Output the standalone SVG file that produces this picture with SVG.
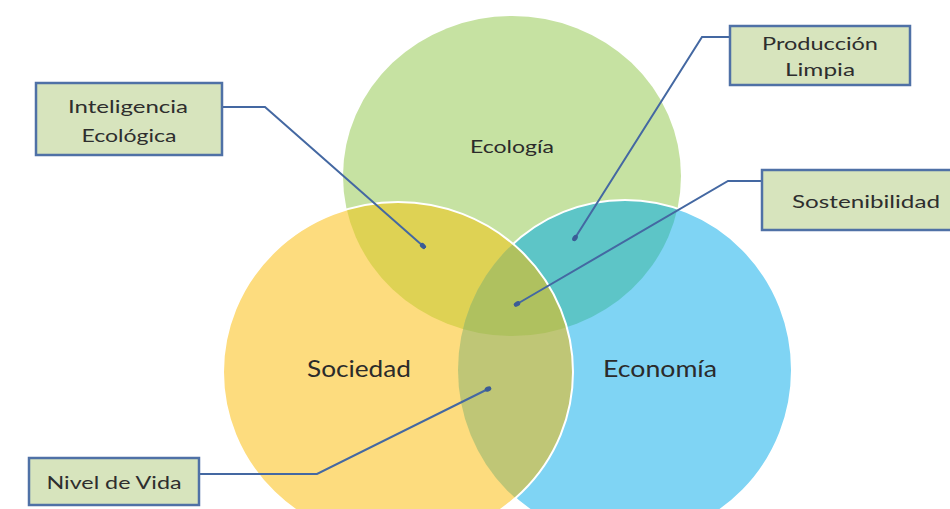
<svg xmlns="http://www.w3.org/2000/svg" width="950" height="509" viewBox="0 0 950 509">
  <style>
    .venn-label { font-family: "Lato", "Liberation Sans", sans-serif; fill: #2B2B2B; text-anchor: middle; }
    .box { fill: #D7E4BD; stroke: #4F71A6; stroke-width: 2.5; }
    .box-text { font-family: "Lato", "Liberation Sans", sans-serif; font-size: 17px; fill: #2E2E2E; text-anchor: middle; }
    .rim { fill: none; stroke: #FFFFFF; stroke-width: 2; }
    .link { fill: none; stroke: #4468A2; stroke-width: 2; marker-end: url(#dot); }
  </style>
  <defs>
    <clipPath id="clip-eco"><ellipse cx="512" cy="176" rx="169" ry="160"/></clipPath>
    <clipPath id="clip-soc"><ellipse cx="398" cy="372" rx="175" ry="170"/></clipPath>
    <clipPath id="clip-econ"><ellipse cx="625" cy="370" rx="167" ry="170"/></clipPath>
    <marker id="dot" viewBox="0 0 10 10" refX="5" refY="5" markerWidth="7" markerHeight="7" markerUnits="userSpaceOnUse" orient="auto">
      <ellipse cx="5" cy="5" rx="5" ry="3.5" fill="#3B5C96"/>
    </marker>
  </defs>

  <rect width="950" height="509" fill="#FFFFFF"/>

  <!-- Ecología circle -->
  <g id="venn-ecologia">
    <ellipse cx="512" cy="176" rx="169" ry="160" fill="#C6E2A2"/>
    <text class="venn-label" x="512" y="153" font-size="18" textLength="84" lengthAdjust="spacingAndGlyphs">Ecología</text>
  </g>

  <!-- Economía circle, with its overlap on Ecología -->
  <g id="venn-economia">
    <ellipse cx="625" cy="370" rx="167" ry="170" fill="#7FD4F4"/>
    <ellipse cx="625" cy="370" rx="167" ry="170" fill="#5DC5C7" clip-path="url(#clip-eco)"/>
    <ellipse class="rim" cx="625" cy="370" rx="167" ry="170"/>
    <text class="venn-label" x="660" y="377" font-size="23" textLength="114" lengthAdjust="spacingAndGlyphs">Economía</text>
  </g>

  <!-- Sociedad circle, with its overlaps on the other two -->
  <g id="venn-sociedad">
    <ellipse cx="398" cy="372" rx="175" ry="170" fill="#FDDC7E"/>
    <ellipse cx="398" cy="372" rx="175" ry="170" fill="#DED254" clip-path="url(#clip-eco)"/>
    <ellipse cx="398" cy="372" rx="175" ry="170" fill="#BFC676" clip-path="url(#clip-econ)"/>
    <g clip-path="url(#clip-eco)">
      <ellipse cx="398" cy="372" rx="175" ry="170" fill="#AFC15F" clip-path="url(#clip-econ)"/>
    </g>
    <ellipse class="rim" cx="398" cy="372" rx="175" ry="170"/>
    <text class="venn-label" x="359" y="377" font-size="23" textLength="104" lengthAdjust="spacingAndGlyphs">Sociedad</text>
  </g>

  <!-- Callout lines -->
  <g id="connectors">
    <path class="link" d="M222,107 H265 L423,246"/>
    <path class="link" d="M730,37 H702 L575,238"/>
    <path class="link" d="M762,181 H728 L517,304"/>
    <path class="link" d="M199,474 H317 L488,389"/>
  </g>

  <!-- Callout boxes -->
  <g id="label-inteligencia">
    <rect class="box" x="36" y="83" width="186" height="72"/>
    <text class="box-text" x="128" y="113" textLength="120" lengthAdjust="spacingAndGlyphs">Inteligencia</text>
    <text class="box-text" x="129" y="142" textLength="95" lengthAdjust="spacingAndGlyphs">Ecológica</text>
  </g>

  <g id="label-produccion">
    <rect class="box" x="730" y="26" width="180" height="59"/>
    <text class="box-text" x="820" y="50" textLength="116" lengthAdjust="spacingAndGlyphs">Producción</text>
    <text class="box-text" x="820" y="76" textLength="70" lengthAdjust="spacingAndGlyphs">Limpia</text>
  </g>

  <g id="label-sostenibilidad">
    <rect class="box" x="762" y="170" width="200" height="60"/>
    <text class="box-text" x="866" y="208" font-size="18" textLength="148" lengthAdjust="spacingAndGlyphs">Sostenibilidad</text>
  </g>

  <g id="label-nivel">
    <rect class="box" x="29" y="458" width="170" height="47"/>
    <text class="box-text" x="114" y="489" textLength="135" lengthAdjust="spacingAndGlyphs">Nivel de Vida</text>
  </g>
</svg>
